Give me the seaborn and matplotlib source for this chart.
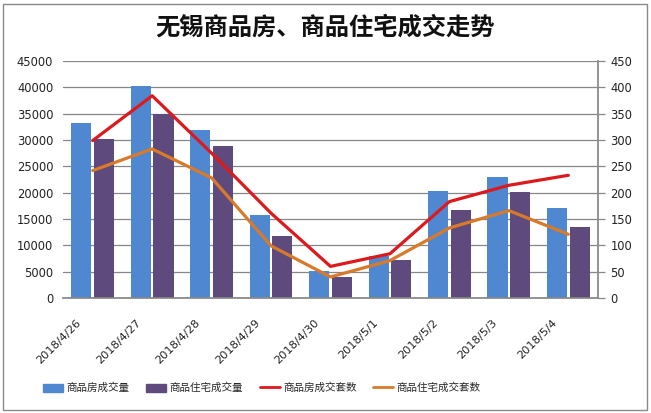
import numpy as np
import pandas as pd
import matplotlib
matplotlib.use("Agg")
import matplotlib.pyplot as plt
import matplotlib.transforms as mtrans
import seaborn as sns
from matplotlib.patches import Rectangle
from matplotlib.lines import Line2D

dates = ["2018/4/26", "2018/4/27", "2018/4/28", "2018/4/29", "2018/4/30",
         "2018/5/1", "2018/5/2", "2018/5/3", "2018/5/4"]
spf_area = [33250, 40300, 31900, 15700, 5200, 7900, 20400, 23000, 17100]
zz_area = [30200, 35000, 28900, 11800, 4000, 7300, 16750, 20200, 13500]
spf_units = [299, 384, 275, 161, 60, 84, 183, 214, 233]
zz_units = [242, 283, 228, 99, 40, 71, 133, 166, 121]
names = ["商品房成交量", "商品住宅成交量", "商品房成交套数", "商品住宅成交套数"]
title = "无锡商品房、商品住宅成交走势"

sns.set_theme(style="white")
plt.rcParams['font.family'] = ['Noto Sans CJK SC', 'DejaVu Sans']

c_blue = "#4F88D0"
c_purple = "#5E4A7C"
c_red = "#DC1A1E"
c_orange = "#D97A2A"
grid_c = "#878787"

fig = plt.figure(figsize=(6.51, 4.13), dpi=100)
ax = fig.add_axes([63/651, 1-298/413, (598-63)/651, (298-61)/413])

df = pd.DataFrame({
    "date": dates * 2,
    "value": spf_area + zz_area,
    "series": [names[0]] * len(dates) + [names[1]] * len(dates),
})
sns.barplot(data=df, x="date", y="value", hue="series", order=dates,
            hue_order=names[:2], palette=[c_blue, c_purple], width=0.76,
            gap=0.11, saturation=1, ax=ax, legend=False, linewidth=0,
            edgecolor="none")
ax.set_ylim(0, 45000)
ax.set_yticks(np.arange(0, 45001, 5000))
ax.set_xlim(-0.5, len(dates) - 0.5)
ax.yaxis.grid(True, color=grid_c, linewidth=0.9)
ax.set_axisbelow(True)
ax.set_xlabel("")
ax.set_ylabel("")
for s in ["left", "top", "right"]:
    ax.spines[s].set_visible(False)
ax.spines["bottom"].set_color(grid_c)
ax.tick_params(axis="y", length=0, labelsize=8.3, pad=7, colors="#222222")
ax.tick_params(axis="x", length=0, labelsize=8.2, pad=0, colors="#222222")
ax.set_xticks(range(len(dates)))
ax.set_xticklabels(dates, rotation=45, ha="right", va="center",
                   rotation_mode="anchor")
offset = mtrans.ScaledTranslation(-13/100, -23/100, fig.dpi_scale_trans)
for lbl in ax.get_xticklabels():
    lbl.set_fontfamily(['DejaVu Sans'])
    lbl.set_transform(lbl.get_transform() + offset)
for lbl in ax.get_yticklabels():
    lbl.set_fontfamily(['DejaVu Sans'])

ax2 = ax.twinx()
xpos = np.arange(len(dates))
sns.lineplot(x=xpos, y=spf_units, color=c_red, linewidth=2.3, ax=ax2)
sns.lineplot(x=xpos, y=zz_units, color=c_orange, linewidth=2.3, ax=ax2)
ax2.set_ylim(0, 450)
ax2.set_yticks(np.arange(0, 451, 50))
ax2.set_xlim(-0.5, len(dates) - 0.5)
for s in ["left", "top", "bottom"]:
    ax2.spines[s].set_visible(False)
ax2.spines["right"].set_color(grid_c)
ax2.tick_params(axis="y", length=5, width=0.9, direction="out",
                labelsize=8.3, pad=4, color=grid_c, labelcolor="#222222")
for lbl in ax2.get_yticklabels():
    lbl.set_fontfamily(['DejaVu Sans'])
ax2.grid(False)

fig.text(0.5, 1-28/413, title, ha="center", va="center", fontsize=17.5,
         fontweight="bold", color="#111111")

handles = [
    Rectangle((0, 0), 1, 1, color=c_blue),
    Rectangle((0, 0), 1, 1, color=c_purple),
    Line2D([0], [0], color=c_red, linewidth=2),
    Line2D([0], [0], color=c_orange, linewidth=2),
]
fig.legend(handles, names, loc="center left", bbox_to_anchor=(43/651, 1-388/413),
           ncol=4, frameon=False, fontsize=7.6, handlelength=1.9,
           handleheight=0.8, columnspacing=1.6, handletextpad=0.3,
           borderaxespad=0, borderpad=0)

fig.patches.append(Rectangle((3/651, 3/413), 644/651, 406/413, transform=fig.transFigure,
                             fill=False, edgecolor="#8a8a8a", linewidth=1))

fig.savefig("out.png", dpi=100)
